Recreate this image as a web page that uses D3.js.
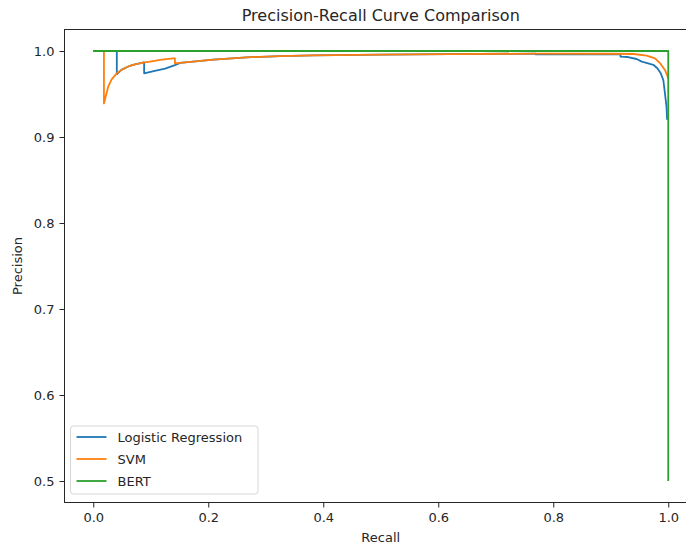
<!DOCTYPE html>
<html>
<head>
<meta charset="utf-8">
<script src="https://cdn.jsdelivr.net/npm/d3@7"></script>
<style>
  body { margin: 0; background: #fff; }
  svg text { font-family: "DejaVu Sans", sans-serif; fill: #262626; }
</style>
</head>
<body>
<div id="chart"></div>
<script>
// curves (recall, precision)
var lrRecall = [0, 0.041, 0.041, 0.049, 0.061, 0.0725, 0.0885, 0.0885, 0.107, 0.125, 0.142, 0.151, 0.209, 0.267, 0.325, 0.382, 0.499, 0.62, 0.77, 0.77, 0.917, 0.917, 0.93, 0.945, 0.954, 0.965, 0.974, 0.981, 0.987, 0.9915, 0.9942, 0.997, 0.998];
var lrPrecision = [1.0, 1.0, 0.973, 0.978, 0.982, 0.9845, 0.9868, 0.974, 0.977, 0.9795, 0.9835, 0.9862, 0.990, 0.9927, 0.994, 0.995, 0.9957, 0.9963, 0.997, 0.996, 0.996, 0.9934, 0.993, 0.9907, 0.9876, 0.9857, 0.984, 0.980, 0.974, 0.966, 0.951, 0.935, 0.92];

var svmRecall = [0, 0.0186, 0.0186, 0.026, 0.032, 0.041, 0.049, 0.061, 0.0725, 0.087, 0.1016, 0.119, 0.139, 0.142, 0.142, 0.151, 0.209, 0.267, 0.325, 0.382, 0.499, 0.62, 0.77, 0.9, 0.94, 0.9625, 0.977, 0.986, 0.9942, 0.998, 1.0];
var svmPrecision = [1.0, 1.0, 0.939, 0.9585, 0.967, 0.974, 0.978, 0.982, 0.9845, 0.9865, 0.988, 0.9899, 0.9915, 0.9915, 0.9857, 0.9862, 0.990, 0.9927, 0.994, 0.995, 0.9957, 0.9963, 0.997, 0.9968, 0.9965, 0.9945, 0.9915, 0.9857, 0.978, 0.972, 0.968];

var bertRecall = [0, 1, 1];
var bertPrecision = [1, 1, 0.5];

var seriesNames = ["Logistic Regression", "SVM", "BERT"];
var colors = ["#1f77b4", "#ff7f0e", "#2ca02c"];
var xTicks = [0.0, 0.2, 0.4, 0.6, 0.8, 1.0];
var yTicks = [0.5, 0.6, 0.7, 0.8, 0.9, 1.0];

var w = 686, h = 546;
var plotLeft = 64.5, plotRight = 697, plotTop = 29.5, plotBottom = 502.5;

var svg = d3.select("#chart").append("svg").attr("width", w).attr("height", h);

var xScale = d3.scaleLinear().domain([-0.05, 1.05]).range([plotLeft, plotRight]);
var yScale = d3.scaleLinear().domain([0.475, 1.025]).range([plotBottom, plotTop]);

function zip(rs, ps) {
    return rs.map(function(r, i) { return [r, ps[i]]; });
}
var series = [zip(lrRecall, lrPrecision), zip(svmRecall, svmPrecision), zip(bertRecall, bertPrecision)];

var line = d3.line()
    .x(function(d) { return xScale(d[0]); })
    .y(function(d) { return yScale(d[1]); });

svg.append("clipPath").attr("id", "clip").append("rect")
    .attr("x", plotLeft).attr("y", plotTop).attr("width", plotRight - plotLeft).attr("height", plotBottom - plotTop);

svg.append("g").attr("clip-path", "url(#clip)")
    .selectAll("path")
    .data(series)
    .enter()
    .append("path")
    .attr("d", line)
    .attr("fill", "none")
    .attr("stroke", function(d, i) { return colors[i]; })
    .attr("stroke-width", 1.8)
    .attr("stroke-linejoin", "round");

// axes
var xAxis = d3.axisBottom(xScale).tickValues(xTicks).tickFormat(d3.format(".1f")).tickSize(5).tickPadding(5);
var yAxis = d3.axisLeft(yScale).tickValues(yTicks).tickFormat(d3.format(".1f")).tickSize(5).tickPadding(5);

var gx = svg.append("g").attr("transform", "translate(0," + plotBottom + ")").call(xAxis);
var gy = svg.append("g").attr("transform", "translate(" + plotLeft + ",0)").call(yAxis);
[gx, gy].forEach(function(g) {
    g.select(".domain").remove();
    g.selectAll("text").style("font-size", "13px").attr("fill", "#262626");
    g.selectAll("line").attr("stroke", "#262626");
});

// frame
svg.append("rect")
    .attr("x", plotLeft).attr("y", plotTop)
    .attr("width", plotRight - plotLeft).attr("height", plotBottom - plotTop)
    .attr("fill", "none").attr("stroke", "#262626").attr("stroke-width", 1);

svg.append("text")
    .attr("x", (plotLeft + plotRight) / 2).attr("y", 21)
    .attr("text-anchor", "middle")
    .style("font-size", "16px")
    .text("Precision-Recall Curve Comparison");

svg.append("text")
    .attr("x", (plotLeft + plotRight) / 2).attr("y", 542)
    .attr("text-anchor", "middle")
    .style("font-size", "13px")
    .text("Recall");

svg.append("text")
    .attr("transform", "translate(22," + ((plotTop + plotBottom) / 2) + ") rotate(-90)")
    .attr("text-anchor", "middle")
    .style("font-size", "13px")
    .text("Precision");

// legend
var legend = svg.append("g").attr("transform", "translate(70.5,426)");
legend.append("rect")
    .attr("width", 187.5).attr("height", 68)
    .attr("rx", 3).attr("ry", 3)
    .attr("fill", "#fff").attr("fill-opacity", 0.8)
    .attr("stroke", "#d6d6d6");

seriesNames.forEach(function(name, i) {
    var y = 11 + i * 22;
    legend.append("line")
        .attr("x1", 6).attr("x2", 36).attr("y1", y).attr("y2", y)
        .attr("stroke", colors[i]).attr("stroke-width", 1.8);
    legend.append("text")
        .attr("x", 47).attr("y", y)
        .attr("dominant-baseline", "central")
        .style("font-size", "13px")
        .text(name);
});
</script>
</body>
</html>
